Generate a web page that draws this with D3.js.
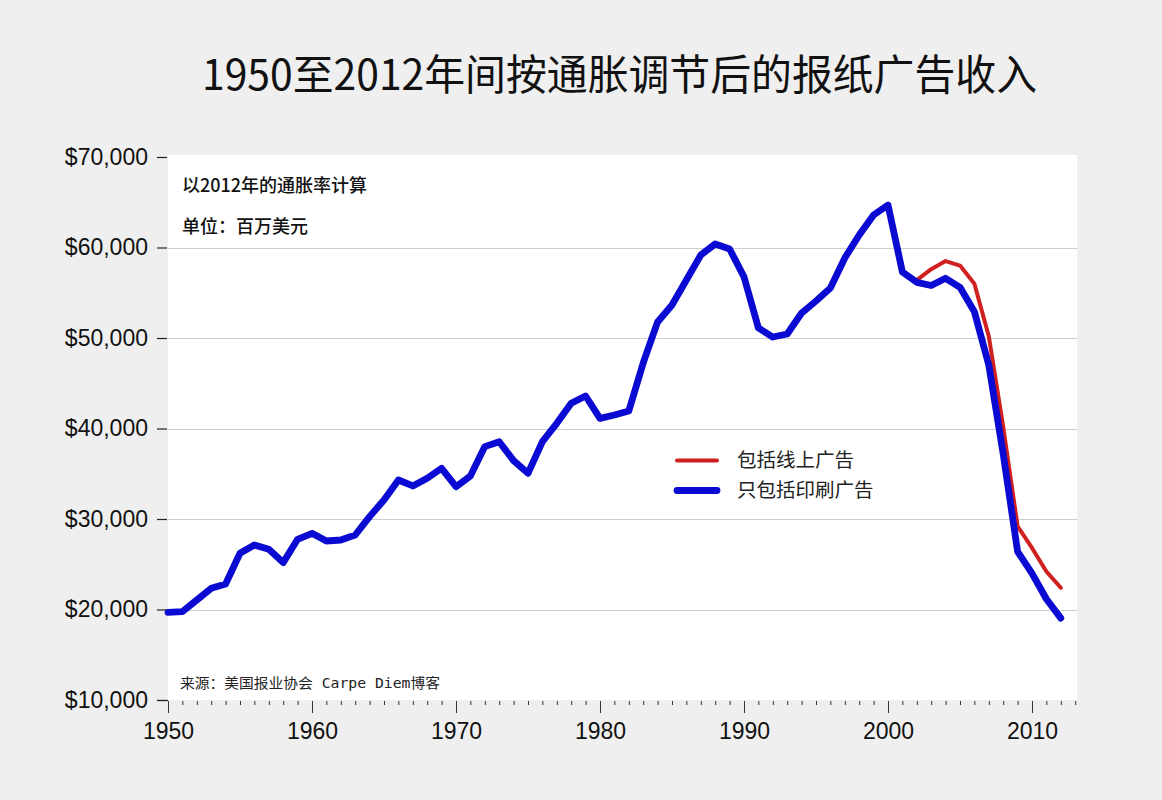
<!DOCTYPE html>
<html>
<head>
<meta charset="utf-8">
<script src="https://cdn.jsdelivr.net/npm/d3@7/dist/d3.min.js"></script>
<style>
  html, body { margin: 0; padding: 0; background: #efefef; }
  svg { display: block; }
</style>
</head>
<body>
<script>
// ---------- data ----------
const years = d3.range(1950, 2013);
const printOnly = [
  19690, 19760, 21050, 22340, 22820, 26210, 27130, 26650, 25180, 27760,
  28420, 27570, 27680, 28230, 30260, 32100, 34310, 33650, 34500, 35600,
  33570, 34750, 38000, 38540, 36450, 35050, 38540, 40570, 42780, 43590,
  41120, 41490, 41930, 47240, 51770, 53650, 56410, 59170, 60390, 59840,
  56750, 51110, 50110, 50440, 52760, 54090, 55530, 58840, 61380, 63590,
  64700, 57300, 56150, 55800, 56600, 55600, 52900, 47000, 37200, 26400,
  24000, 21160, 19050
];
const onlineYears = d3.range(2002, 2013);
const withOnline = [56400, 57600, 58500, 58000, 56000, 50200, 40200, 29200, 26800, 24200, 22400];

const yTicks = [10000, 20000, 30000, 40000, 50000, 60000, 70000];
const gridTicks = [20000, 30000, 40000, 50000, 60000];
const xMajor = [1950, 1960, 1970, 1980, 1990, 2000, 2010];
const xMinor = d3.range(1950, 2014);

const title = "1950至2012年间按通胀调节后的报纸广告收入";
const note1 = "以2012年的通胀率计算";
const note2 = "单位：百万美元";
const source = "来源：美国报业协会 Carpe Diem博客";
const legendLabels = ["包括线上广告", "只包括印刷广告"];

// ---------- layout ----------
const W = 1162, H = 800;
const plot = { left: 168, right: 1077, top: 155, bottom: 700 };

const svg = d3.select("body").append("svg").attr("width", W).attr("height", H);
svg.append("rect").attr("width", W).attr("height", H).attr("fill", "#efefef");

const x = d3.scaleLinear().domain([1950, 2013]).range([168, 1075.2]);
const y = d3.scaleLinear().domain([10000, 70000]).range([700, 157]);

// plot background
svg.append("rect")
  .attr("x", plot.left).attr("y", plot.top)
  .attr("width", plot.right - plot.left).attr("height", plot.bottom - plot.top)
  .attr("fill", "#ffffff");

// grid lines
svg.append("g").selectAll("line").data(gridTicks).join("line")
  .attr("x1", plot.left).attr("x2", plot.right)
  .attr("y1", d => Math.round(y(d)) + 0.5).attr("y2", d => Math.round(y(d)) + 0.5)
  .attr("stroke", "#cccccc").attr("stroke-width", 1);

const latin = "'Liberation Sans', Arial, 'Noto Sans CJK SC', sans-serif";
const cjk = "'Noto Sans CJK SC', 'Liberation Sans', sans-serif";

// title
svg.append("text")
  .attr("x", 202).attr("y", 90)
  .attr("textLength", 835).attr("lengthAdjust", "spacingAndGlyphs")
  .attr("font-family", "'Liberation Sans Narrow', 'Noto Sans CJK SC', sans-serif")
  .attr("font-size", 42).attr("fill", "#111")
  .text(title);

// y axis
const yAxis = d3.axisLeft(y).tickValues(yTicks).tickSize(10).tickPadding(9)
  .tickFormat(d => "$" + d3.format(",")(d));
const gy = svg.append("g").attr("transform", "translate(167,0)").call(yAxis);
gy.select(".domain").remove();
gy.selectAll(".tick line").attr("stroke", "#222").attr("stroke-width", 1.2);
gy.selectAll(".tick text").attr("font-family", latin).attr("font-size", 23).attr("fill", "#111");

// x axis: minor + major ticks
const xAxisMinor = d3.axisBottom(x).tickValues(xMinor).tickSize(4).tickFormat("");
const gxm = svg.append("g").attr("transform", "translate(0,701)").call(xAxisMinor);
gxm.select(".domain").remove();
gxm.selectAll(".tick line").attr("stroke", "#333").attr("stroke-width", 1);

const xAxisMajor = d3.axisBottom(x).tickValues(xMajor).tickSize(12).tickPadding(10)
  .tickFormat(d3.format("d"));
const gx = svg.append("g").attr("transform", "translate(0,701)").call(xAxisMajor);
gx.select(".domain").remove();
gx.selectAll(".tick line").attr("stroke", "#333").attr("stroke-width", 1);
gx.selectAll(".tick text").attr("font-family", latin).attr("font-size", 23).attr("fill", "#111");

// corner mark at bottom-left
svg.append("line").attr("x1", 157).attr("x2", 168).attr("y1", 700.5).attr("y2", 700.5)
  .attr("stroke", "#222").attr("stroke-width", 1.2);

// notes
svg.append("text").attr("x", 182).attr("y", 192)
  .attr("font-family", cjk).attr("font-size", 18).attr("font-weight", 500).attr("fill", "#111")
  .text(note1);
svg.append("text").attr("x", 182).attr("y", 233)
  .attr("font-family", cjk).attr("font-size", 18).attr("font-weight", 500).attr("fill", "#111")
  .text(note2);

// source
svg.append("text").attr("x", 180).attr("y", 688)
  .attr("textLength", 260).attr("lengthAdjust", "spacingAndGlyphs")
  .attr("font-family", "'DejaVu Sans Mono', 'Noto Sans CJK SC', monospace")
  .attr("font-size", 14).attr("fill", "#222")
  .text(source);

// lines
const line = d3.line().x(d => x(d[0])).y(d => y(d[1]));
svg.append("path")
  .datum(onlineYears.map((yr, i) => [yr, withOnline[i]]))
  .attr("d", line).attr("fill", "none")
  .attr("stroke", "#d01f1f").attr("stroke-width", 4)
  .attr("stroke-linejoin", "round").attr("stroke-linecap", "round");
svg.append("path")
  .datum(years.map((yr, i) => [yr, printOnly[i]]))
  .attr("d", line).attr("fill", "none")
  .attr("stroke", "#0a0ad2").attr("stroke-width", 6.8)
  .attr("stroke-linejoin", "round").attr("stroke-linecap", "round");

// legend
const legendColors = ["#d01f1f", "#0a0ad2"];
const legendWidths = [4, 6.8];
const legendY = [460.5, 490.5];
const lg = svg.append("g");
legendLabels.forEach((lab, i) => {
  lg.append("line").attr("x1", 677).attr("x2", 717).attr("y1", legendY[i]).attr("y2", legendY[i])
    .attr("stroke", legendColors[i]).attr("stroke-width", legendWidths[i])
    .attr("stroke-linecap", "round");
  lg.append("text").attr("x", 737).attr("y", legendY[i]).attr("dy", "0.35em")
    .attr("font-family", cjk).attr("font-size", 19.5).attr("fill", "#222")
    .text(lab);
});
</script>
</body>
</html>
